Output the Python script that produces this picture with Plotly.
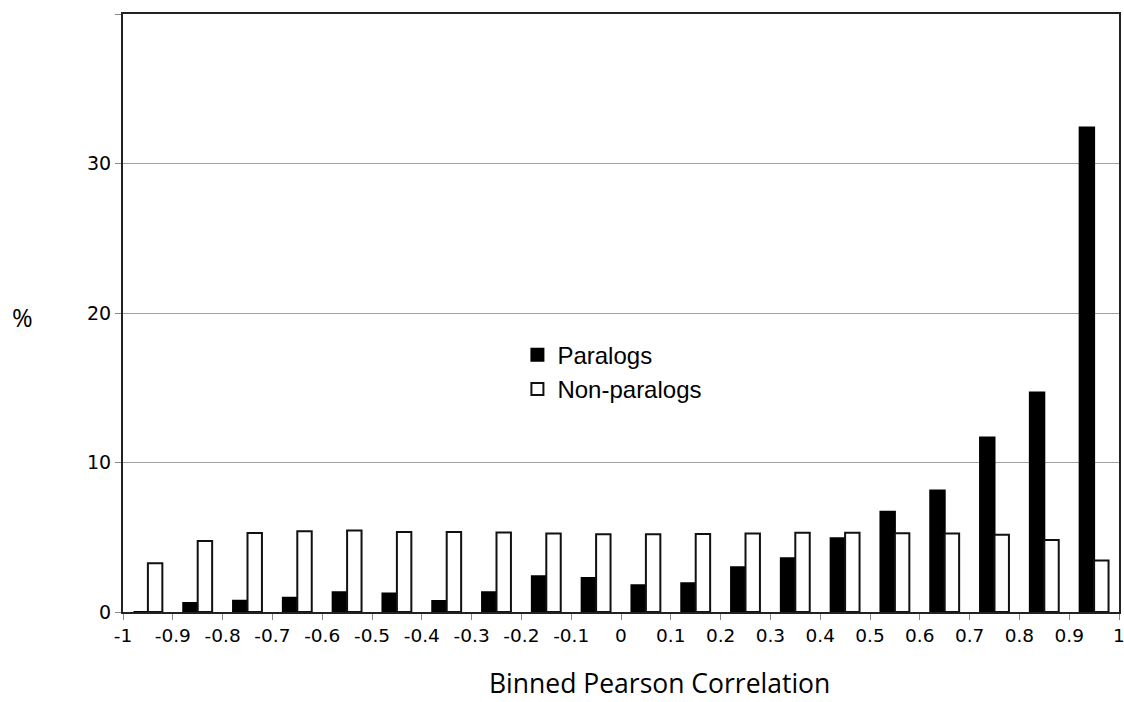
import plotly.graph_objects as go

bin_centers = [-0.95, -0.85, -0.75, -0.65, -0.55, -0.45, -0.35, -0.25, -0.15, -0.05,
               0.05, 0.15, 0.25, 0.35, 0.45, 0.55, 0.65, 0.75, 0.85, 0.95]
paralogs = [0.0, 0.6, 0.75, 0.96, 1.32, 1.23, 0.74, 1.32, 2.39, 2.28,
            1.79, 1.92, 2.99, 3.6, 4.93, 6.7, 8.13, 11.68, 14.69, 32.4]
non_paralogs = [3.26, 4.75, 5.28, 5.4, 5.45, 5.35, 5.35, 5.32, 5.25, 5.2,
                5.2, 5.22, 5.25, 5.3, 5.3, 5.27, 5.25, 5.16, 4.82, 3.44]
x_tickvals = [-1, -0.9, -0.8, -0.7, -0.6, -0.5, -0.4, -0.3, -0.2, -0.1, 0,
              0.1, 0.2, 0.3, 0.4, 0.5, 0.6, 0.7, 0.8, 0.9, 1]
x_ticktext = ["-1", "-0.9", "-0.8", "-0.7", "-0.6", "-0.5", "-0.4", "-0.3", "-0.2", "-0.1", "0",
              "0.1", "0.2", "0.3", "0.4", "0.5", "0.6", "0.7", "0.8", "0.9", "1"]
y_tickvals = [0, 10, 20, 30, 40]
y_ticktext = ["0", "10", "20", "30", ""]

fig = go.Figure()
fig.add_trace(go.Bar(x=bin_centers, y=paralogs, name="Paralogs",
                     marker=dict(color="black", line=dict(color="black", width=2))))
fig.add_trace(go.Bar(x=bin_centers, y=non_paralogs, name="Non-paralogs",
                     marker=dict(color="white", line=dict(color="#111111", width=2))))

fig.update_layout(
    width=1140, height=702,
    margin=dict(l=123, r=21, t=14, b=90),
    paper_bgcolor="white", plot_bgcolor="white",
    barmode="group", bargap=0.42, bargroupgap=0,
    font=dict(family="DejaVu Sans", color="black", size=18),
    showlegend=True,
    legend=dict(x=0.396, y=0.467, xanchor="left", yanchor="top",
                font=dict(family="Liberation Sans", size=24, color="black"),
                bgcolor="rgba(0,0,0,0)", tracegroupgap=0),
)
fig.update_xaxes(range=[-1, 1], tickvals=x_tickvals, ticktext=x_ticktext,
                 ticks="outside", ticklen=6, tickcolor="#888888", tickwidth=1,
                 showgrid=False, zeroline=False,
                 showline=True, linecolor="#222222", linewidth=2, mirror=True,
                 tickfont=dict(size=18.5))
fig.update_yaxes(range=[0, 40], tickvals=y_tickvals, ticktext=y_ticktext,
                 ticks="outside", ticklen=6, tickcolor="#888888", tickwidth=1,
                 showgrid=True, gridcolor="#a0a0a0", gridwidth=1, zeroline=False,
                 showline=True, linecolor="#222222", linewidth=2, mirror=True,
                 tickfont=dict(size=19))
fig.add_annotation(text="Binned Pearson Correlation", xref="paper", yref="paper",
                   x=0.539, y=-0.1505, showarrow=False, xanchor="center", yanchor="bottom",
                   borderpad=0,
                   font=dict(family="Open Sans", size=26.5, color="black"))
fig.add_annotation(text="%", xref="paper", yref="paper", x=-0.1014, y=0.493,
                   showarrow=False, xanchor="center", yanchor="middle",
                   font=dict(family="Open Sans", size=25, color="black"))

fig.write_html("out.html", config={"displayModeBar": False},
               post_script="document.body.style.margin='0';document.body.style.overflow='hidden';")
